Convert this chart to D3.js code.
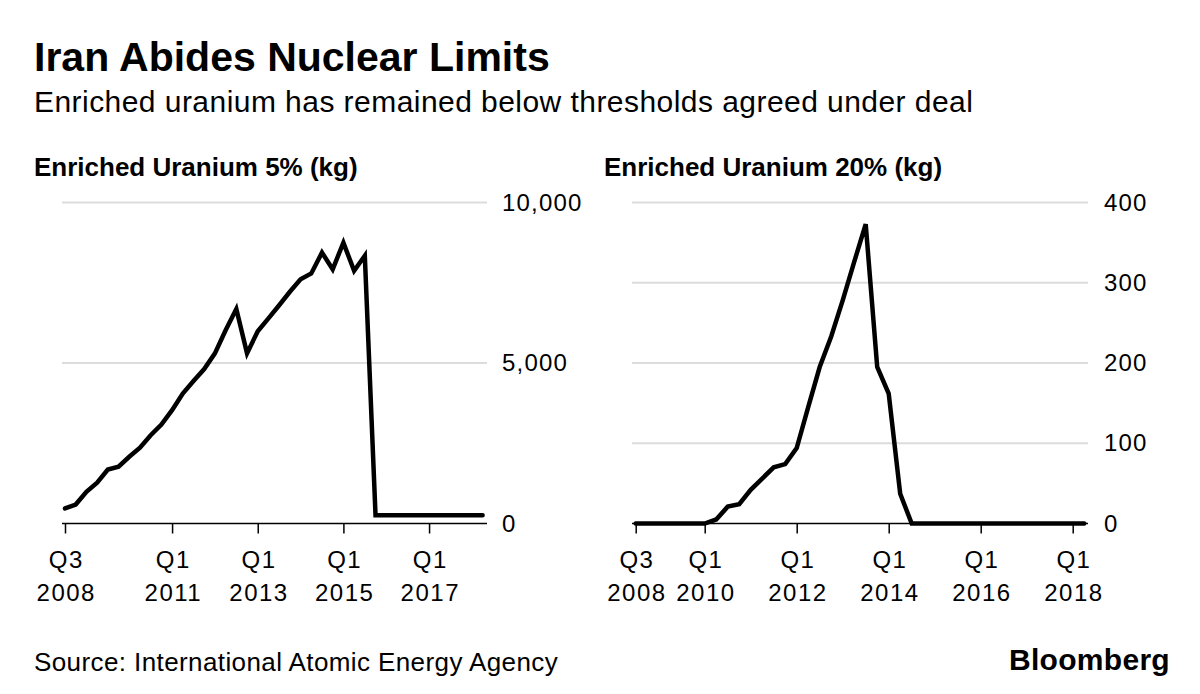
<!DOCTYPE html>
<html>
<head>
<meta charset="utf-8">
<script src="https://cdn.jsdelivr.net/npm/d3@7"></script>
<style>
  html, body { margin: 0; padding: 0; background: #fff; }
  svg { display: block; font-family: "Liberation Sans", Arial, Helvetica, sans-serif; }
</style>
</head>
<body>
<svg id="chart" width="1200" height="694"></svg>
<script>
// ---- data (quarterly, Q3 2008 .. Q2 2018) ----
const quarters = [
  "2008Q3","2008Q4","2009Q1","2009Q2","2009Q3","2009Q4",
  "2010Q1","2010Q2","2010Q3","2010Q4","2011Q1","2011Q2","2011Q3","2011Q4",
  "2012Q1","2012Q2","2012Q3","2012Q4","2013Q1","2013Q2","2013Q3","2013Q4",
  "2014Q1","2014Q2","2014Q3","2014Q4","2015Q1","2015Q2","2015Q3","2015Q4",
  "2016Q1","2016Q2","2016Q3","2016Q4","2017Q1","2017Q2","2017Q3","2017Q4",
  "2018Q1","2018Q2"
];
const uranium5 = [
  470, 590, 990, 1270, 1680, 1770,
  2080, 2360, 2750, 3080, 3530, 4050, 4440, 4810,
  5300, 6020, 6680, 5300, 5990, 6390, 6800, 7220,
  7610, 7790, 8440, 7920, 8750, 7870, 8340, 260,
  260, 260, 260, 260, 260, 260, 260, 260,
  260, 260
];
const uranium20 = [
  0, 0, 0, 0, 0, 0,
  0, 5, 21, 24, 42, 56, 70, 74,
  94, 145, 195, 233, 278, 326, 373, 195,
  162, 37, 0, 0, 0, 0, 0, 0,
  0, 0, 0, 0, 0, 0, 0, 0,
  0, 0
];
const ticks5 = ["2008Q3","2011Q1","2013Q1","2015Q1","2017Q1"];
const ticks20 = ["2008Q3","2010Q1","2012Q1","2014Q1","2016Q1","2018Q1"];
const yTicks5 = [0, 5000, 10000];
const yTicks20 = [0, 100, 200, 300, 400];

const svg = d3.select("#chart");

// titles
svg.append("text").attr("x", 34).attr("y", 71)
  .attr("font-size", 41).attr("font-weight", "bold").attr("fill", "#000")
  .text("Iran Abides Nuclear Limits");
svg.append("text").attr("x", 34).attr("y", 112)
  .attr("font-size", 30).attr("letter-spacing", 0.45).attr("fill", "#000")
  .text("Enriched uranium has remained below thresholds agreed under deal");

function panel(opts) {
  const g = svg.append("g");
  const x = d3.scalePoint().domain(quarters).range(opts.xRange);
  const y = d3.scaleLinear().domain(opts.yDomain).range([523.5, 202.5]);

  g.append("text").attr("x", opts.titleX).attr("y", 176)
    .attr("font-size", 26).attr("font-weight", "bold").attr("fill", "#000")
    .text(opts.title);

  // gridlines
  g.append("g").selectAll("line").data(opts.yTicks.filter(d => d > 0)).join("line")
    .attr("x1", opts.gridRange[0]).attr("x2", opts.gridRange[1])
    .attr("y1", d => y(d)).attr("y2", d => y(d))
    .attr("stroke", "#dcdcdc").attr("stroke-width", 2);

  // right y axis labels
  const yAxis = d3.axisRight(y).tickValues(opts.yTicks).tickSize(0).tickPadding(0)
    .tickFormat(d3.format(","));
  const ya = g.append("g").attr("transform", `translate(${opts.yLabelX},0)`).call(yAxis);
  ya.select(".domain").remove();
  ya.selectAll("text").attr("font-size", 24).attr("letter-spacing", 1.2).attr("fill", "#000")
    .attr("font-family", "Liberation Sans, Arial, sans-serif");

  // x axis
  const xAxis = d3.axisBottom(x).tickValues(opts.xTicks).tickSize(10).tickSizeOuter(0).tickFormat("");
  const xa = g.append("g").attr("transform", `translate(0,523.5)`).call(xAxis);
  xa.select(".domain").attr("d", `M${opts.gridRange[0]},0H${opts.gridRange[1]}`)
    .attr("stroke", "#000").attr("stroke-width", 1.5);
  xa.selectAll(".tick line").attr("stroke", "#000").attr("stroke-width", 1.5);
  const lab = xa.selectAll(".tick").append("text")
    .attr("fill", "#000").attr("font-size", 24).attr("letter-spacing", 1.5).attr("text-anchor", "middle")
    .attr("font-family", "Liberation Sans, Arial, sans-serif");
  lab.append("tspan").attr("x", 0.75).attr("y", 44).text(d => d.slice(4));
  lab.append("tspan").attr("x", 0.75).attr("y", 77).text(d => d.slice(0, 4));

  // line
  const line = d3.line().x((d, i) => x(quarters[i])).y(d => y(d));
  g.append("path").datum(opts.values)
    .attr("d", line).attr("fill", "none").attr("stroke", "#000")
    .attr("stroke-width", 4.5).attr("stroke-linejoin", "miter").attr("stroke-linecap", "round");
}

panel({
  title: "Enriched Uranium 5% (kg)", titleX: 34,
  xRange: [65, 482.6], gridRange: [62, 487], yLabelX: 502,
  yDomain: [0, 10000], yTicks: yTicks5, xTicks: ticks5, values: uranium5
});
panel({
  title: "Enriched Uranium 20% (kg)", titleX: 604,
  xRange: [635.7, 1084.2], gridRange: [632, 1088], yLabelX: 1104,
  yDomain: [0, 400], yTicks: yTicks20, xTicks: ticks20, values: uranium20
});

// footer
svg.append("text").attr("x", 34).attr("y", 671)
  .attr("font-size", 26).attr("letter-spacing", 0.4).attr("fill", "#000")
  .text("Source: International Atomic Energy Agency");
svg.append("text").attr("x", 1170).attr("y", 670).attr("text-anchor", "end")
  .attr("font-size", 30).attr("font-weight", "bold").attr("fill", "#000")
  .attr("letter-spacing", 0.3)
  .text("Bloomberg");
</script>
</body>
</html>
